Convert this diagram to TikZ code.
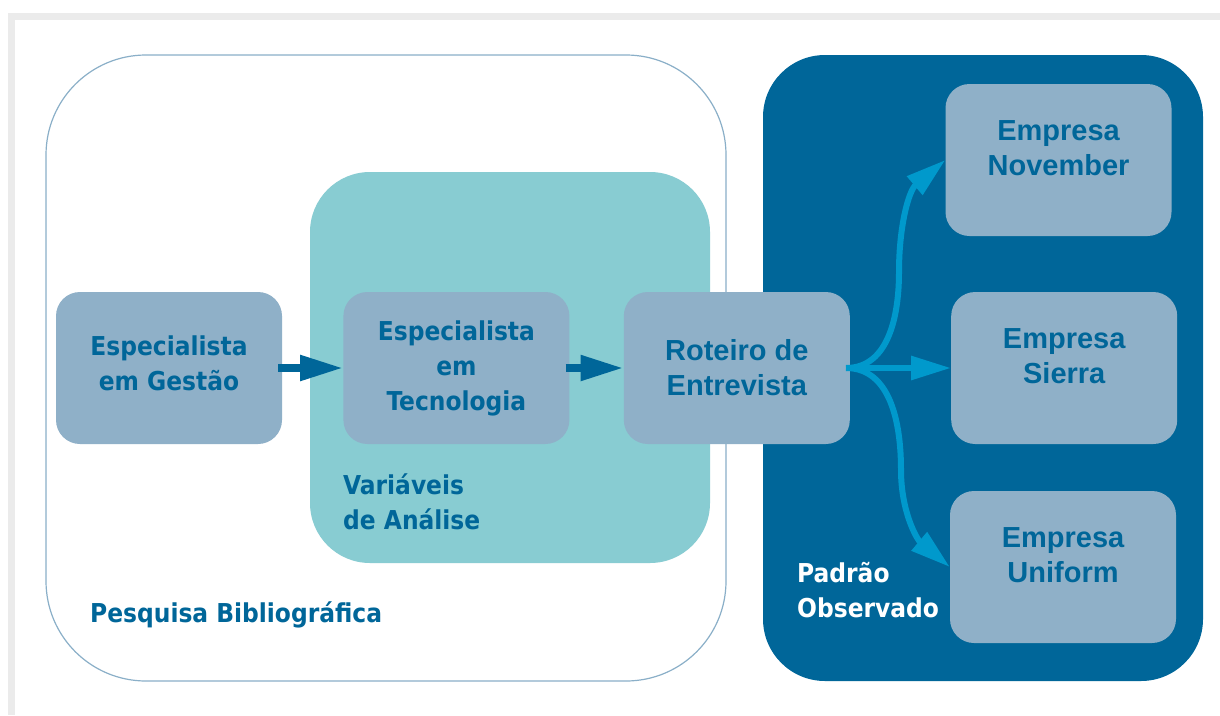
\documentclass[tikz,border=0pt]{standalone}
\usepackage{fontspec}
\setmainfont{Liberation Sans}
\newfontfamily\condfont{DejaVu Sans Condensed}
\usetikzlibrary{arrows.meta,positioning}
\definecolor{deepblue}{HTML}{006699}
\definecolor{lightteal}{HTML}{88CCD2}
\definecolor{boxgray}{HTML}{8FB0C8}
\definecolor{fanblue}{HTML}{0099CC}
\definecolor{outline}{HTML}{8AAFC8}
\definecolor{framegray}{HTML}{EBEBEB}

\begin{document}
\begin{tikzpicture}[x=1pt,y=-1pt,node distance=61pt,
  stage/.style={rounded corners=24pt,fill=boxgray,minimum width=226pt,minimum height=152pt,
    inner sep=0pt,align=center,text=deepblue,font=\bfseries\fontsize{29}{35}\selectfont},
  company/.style={stage,text depth=24pt},
  expert/.style={stage,font=\condfont\bfseries\fontsize{26}{35}\selectfont},
  label/.style={inner sep=0pt,align=left,text=deepblue,font=\condfont\bfseries\fontsize{26}{35}\selectfont},
  flow/.style={-{Triangle[length=43pt,width=24pt]},line width=8pt,deepblue},
  fan/.style={-{Triangle[length=40pt,width=23pt]},line width=6pt,fanblue}]

  \useasboundingbox (0,0) rectangle (1220,715);
  \fill[framegray] (8,13) rectangle (1220,20);
  \fill[framegray] (8,13) rectangle (15,715);

  \draw[rounded corners=100pt,draw=outline,line width=1.2pt,fill=white] (46,55) rectangle (726,681);
  \fill[rounded corners=60pt,lightteal] (310,172) rectangle (710,563);
  \fill[rounded corners=62pt,deepblue] (763,55) rectangle (1203,681);

  \node[expert,text depth=10pt] (gestao) at (169,368) {Especialista\\em Gestão};
  \node[expert] (tecnologia) [right=of gestao] {Especialista\\em\\Tecnologia};
  \node[stage] (roteiro) [right=54pt of tecnologia] {Roteiro de\\Entrevista};
  \node[company] (sierra) [right=101pt of roteiro] {Empresa\\Sierra};
  \node[company] (november) at (1058.5,160) {Empresa\\November};
  \node[company] (uniform) at (1063,567) {Empresa\\Uniform};

  \node[label,anchor=base west] (pesquisa) at (90,622) {Pesquisa Bibliográfica};
  \node[label,anchor=west] (variaveis) at (343,502) {Variáveis\\de Análise};
  \node[label,anchor=west,text=white] (padrao) at (797,590) {Padrão\\Observado};

  \coordinate (upbend) at (899,272);
  \coordinate (downbend) at (901,470);

  \draw[flow] ([xshift=-4pt]gestao.east) -- (tecnologia.west);
  \draw[flow] ([xshift=-4pt]tecnologia.east) -- (roteiro.west);
  \draw[fan] ([xshift=-4pt]roteiro.east) -- (sierra.west);
  \draw[fan] ([xshift=-4pt]roteiro.east) to[out=0,in=-90] (upbend) to[out=90,in=-140] (november.west);
  \draw[fan] ([xshift=-4pt]roteiro.east) to[out=0,in=90] (downbend) to[out=-90,in=140] (uniform.west);
\end{tikzpicture}
\end{document}
